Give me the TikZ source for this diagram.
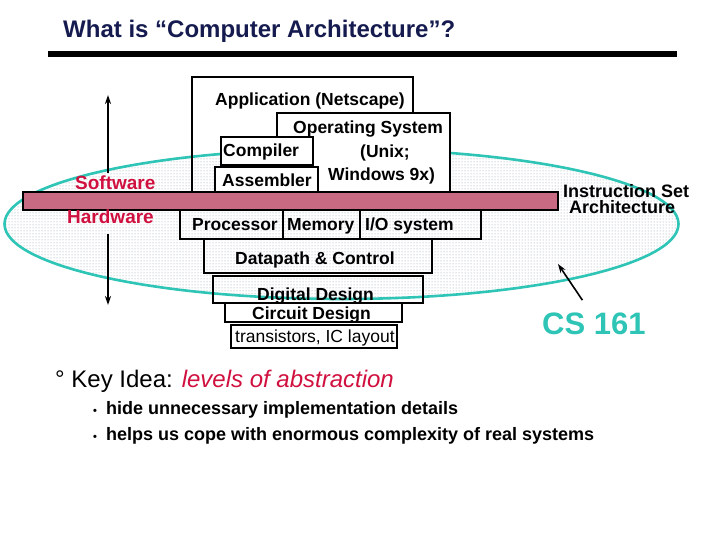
\documentclass[tikz,border=0pt]{standalone}
\usepackage{fontspec}
\setmainfont{Liberation Sans}
\usetikzlibrary{arrows.meta,positioning,calc,shapes.geometric,patterns}
\definecolor{titlenavy}{HTML}{151B4F}
\definecolor{crimson}{HTML}{D0103F}
\definecolor{courseteal}{HTML}{2EC4B6}
\definecolor{barpink}{HTML}{C86A82}
\definecolor{stipple}{HTML}{8C9CA4}
\newcommand{\labelfont}{\fontsize{17.5}{21}\selectfont}

\begin{document}
\begin{tikzpicture}[
    x=1pt, y=-1pt,
    box/.style={draw, line width=2.6pt, anchor=north west, inner sep=0pt,
      outer sep=0pt},
    level/.style={box, fill=white},
    lbl/.style={anchor=base west, inner sep=0pt, font=\labelfont\bfseries},
    thin/.style={lbl, font=\labelfont},
    side/.style={lbl, text=crimson, font=\fontsize{19}{22}\selectfont\bfseries},
    isalbl/.style={lbl, font=\fontsize{18}{22}\selectfont\bfseries},
    bullet/.style={lbl, font=\fontsize{18}{22}\selectfont\bfseries},
    arrow/.style={-{Stealth[length=9pt,width=6pt]}, line width=1.6pt}
  ]
  \useasboundingbox (0,0) rectangle (720,540);

  \node[lbl, text=titlenavy, font=\fontsize{24}{28}\selectfont\bfseries]
    (title) at (63,38) {What is “Computer Architecture”?};
  \node[box, draw=none, fill=black, minimum width=629pt, minimum height=6pt]
    (rule) at (48,51) {};

  \node[ellipse, draw=courseteal, line width=2.6pt, pattern=dots,
    pattern color=stipple, minimum width=674pt, minimum height=150pt,
    inner sep=0pt] (course) at (341.5,224) {};

  \node[box, minimum width=221pt, minimum height=115pt] (app) at (192,77) {};
  \node[level, minimum width=173pt, minimum height=79pt] (os) at (277,113) {};
  \node[level, minimum width=92pt, minimum height=28pt] (comp) at (221,137) {};
  \node[level, minimum width=103pt, minimum height=25pt] (asm) at (215,167) {};
  \node[box, fill=barpink, minimum width=535pt, minimum height=18pt]
    (isa) at (23,192) {};
  \node[box, minimum width=103pt, minimum height=29pt] (proc) at (180,210) {};
  \node[box, minimum width=77pt, minimum height=29pt, right=0pt of proc]
    (mem) {};
  \node[box, minimum width=121pt, minimum height=29pt, right=0pt of mem]
    (io) {};
  \node[box, minimum width=228pt, minimum height=34pt] (dpc) at (204,239) {};
  \node[box, minimum width=210pt, minimum height=27pt]
    (digital) at (213,276) {};
  \node[level, minimum width=177pt, minimum height=19pt]
    (circuit) at (225,303) {};
  \node[level, minimum width=166pt, minimum height=23pt]
    (layout) at (231,325) {};

  \node[lbl] (appl) at (215,106) {Application (Netscape)};
  \node[lbl] (osl) at (293,134) {Operating System};
  \node[lbl] (unix) at (360,158) {(Unix;};
  \node[lbl] (win) at (328,181) {Windows 9x)};
  \node[lbl] (compl) at (223,157) {Compiler};
  \node[lbl] (asml) at (222,187) {Assembler};
  \node[lbl] (procl) at (192,230) {Processor};
  \node[lbl] (meml) at (287,230) {Memory};
  \node[lbl] (iol) at (365,230) {I/O system};
  \node[lbl] (dpcl) at (235,264) {Datapath \& Control};
  \node[lbl] (digl) at (257,300) {Digital Design};
  \node[lbl] (circl) at (252,319) {Circuit Design};
  \node[thin] (layl) at (235,342) {transistors, IC layout};

  \node[side] (sw) at (75,190) {Software};
  \node[side] (hw) at (67,224) {Hardware};
  \node[isalbl] (isa1) at (563,197) {Instruction Set};
  \node[isalbl] (isa2) at (569,214) {Architecture};
  \node[lbl, text=courseteal, font=\fontsize{31}{36}\selectfont\bfseries]
    (cs) at (542,334) {CS 161};

  \coordinate (swtop) at (108,95);
  \coordinate (hwbottom) at (108,305);
  \coordinate (isatip) at (558,264);
  \draw[arrow] ($(sw.north -| swtop)+(0,-3)$) -- (swtop);
  \draw[arrow] ($(hw.south -| hwbottom)+(0,10)$) -- (hwbottom);
  \draw[arrow] ($(cs.north)+(-11.5,-12)$) -- (isatip);

  \node[lbl, font=\fontsize{24}{28}\selectfont] (idea) at (55,387)
    {° Key Idea: \textcolor{crimson}{\itshape levels of abstraction}};
  \node[bullet] (hide) at (93,414)
    {{\fontsize{11}{13}\selectfont•}\hspace{9pt}hide unnecessary
    implementation details};
  \node[bullet] (cope) at (93,440)
    {{\fontsize{11}{13}\selectfont•}\hspace{9pt}helps us cope with
    enormous complexity of real systems};
\end{tikzpicture}
\end{document}
